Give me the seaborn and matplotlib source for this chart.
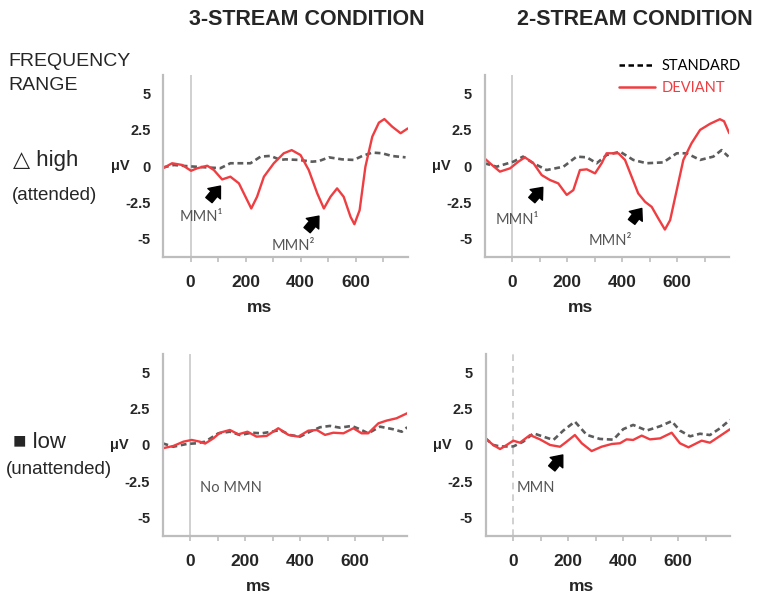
import matplotlib
matplotlib.use("Agg")
import matplotlib.pyplot as plt
from matplotlib import font_manager
from matplotlib.lines import Line2D
import seaborn as sns

# ---- data (time in ms, amplitude in uV) ----
t_3s_high_dev = [-100, -67, -30, 2, 24, 61, 85, 115, 145, 176, 200, 221, 242, 267, 303, 339, 368,
                 400, 430, 461, 485, 509, 533, 557, 582, 596, 615, 636, 661, 685, 705, 733, 764, 790]
v_3s_high_dev = [-0.16, 0.19, 0.07, -0.33, -0.16, 0.02, -0.28, -0.93, -0.74, -1.2, -2.13, -2.94, -2.13,
                 -0.74, 0.19, 0.88, 1.1, 0.76, -0.28, -1.9, -2.94, -2.13, -1.55, -2.13, -3.52, -4.03,
                 -3.06, -0.05, 2.03, 3.0, 3.25, 2.73, 2.27, 2.6]
t_3s_high_std = [-100, -60, -20, 20, 61, 109, 145, 182, 218, 255, 291, 327, 345, 394, 442, 467, 503,
                 551, 594, 624, 661, 697, 733, 782]
v_3s_high_std = [-0.1, 0.07, 0.0, -0.05, -0.1, -0.15, 0.19, 0.19, 0.19, 0.65, 0.7, 0.42, 0.46, 0.42,
                 0.3, 0.34, 0.6, 0.46, 0.42, 0.69, 0.93, 0.88, 0.69, 0.6]

t_2s_high_dev = [-100, -80, -44, -7, 23, 47, 78, 108, 138, 168, 199, 223, 247, 272, 302, 326, 344,
                 387, 411, 435, 459, 484, 508, 532, 556, 575, 599, 623, 653, 684, 720, 756, 771, 790]
v_2s_high_dev = [0.53, 0.19, -0.39, -0.16, 0.3, 0.6, 0.19, -0.63, -0.97, -1.2, -2.0, -1.67, -0.28,
                 -0.23, -0.51, 0.19, 0.88, 0.88, 0.42, -0.74, -1.9, -2.48, -2.83, -3.63, -4.4, -3.75,
                 -1.67, 0.42, 1.58, 2.5, 2.92, 3.24, 3.1, 2.27]
t_2s_high_std = [-100, -56, 5, 40, 78, 126, 187, 235, 272, 308, 344, 393, 441, 489, 550, 599, 635,
                 684, 732, 762, 787]
v_2s_high_std = [0.19, -0.05, 0.3, 0.65, 0.19, -0.28, -0.05, 0.65, 0.6, 0.19, 0.76, 0.99, 0.42, 0.19,
                 0.25, 0.88, 0.88, 0.42, 0.65, 1.1, 0.65]

t_3s_low_dev = [-100, -61, -24, 6, 36, 55, 85, 109, 145, 176, 209, 242, 279, 321, 358, 394, 430, 461,
                491, 521, 558, 594, 624, 648, 685, 715, 751, 790]
v_3s_low_dev = [-0.23, -0.07, 0.23, 0.35, 0.23, 0.1, 0.46, 0.85, 1.04, 0.74, 0.92, 0.58, 0.63, 1.16,
                0.7, 0.58, 0.99, 1.04, 0.7, 0.85, 0.81, 1.16, 0.81, 0.81, 1.5, 1.69, 1.85, 2.2]
t_3s_low_std = [-100, -61, -12, 24, 55, 103, 145, 182, 224, 261, 297, 327, 364, 400, 436, 473, 509,
                545, 588, 618, 648, 691, 739, 770, 790]
v_3s_low_std = [0.12, -0.12, 0.07, 0.12, 0.23, 0.81, 0.92, 0.69, 0.85, 0.81, 0.92, 1.04, 0.69, 0.58,
                0.92, 1.23, 1.32, 1.2, 1.32, 1.09, 0.81, 1.27, 1.09, 0.92, 1.23]

t_2s_low_dev = [-100, -72, -47, -23, 1, 25, 62, 98, 135, 171, 195, 225, 250, 286, 322, 359, 389, 413,
                437, 468, 498, 535, 577, 607, 638, 686, 716, 753, 789]
v_2s_low_dev = [0.46, 0.0, -0.28, 0.0, 0.3, 0.16, 0.69, 0.39, 0.0, -0.12, 0.23, 0.69, 0.12, -0.42,
                -0.12, 0.07, 0.12, 0.39, 0.35, 0.65, 0.39, 0.46, 0.85, 0.12, -0.16, 0.3, 0.16, 0.63, 1.09]
t_2s_low_std = [-100, -72, -47, 1, 37, 74, 110, 147, 183, 225, 268, 316, 365, 401, 437, 486, 535, 577,
                607, 644, 680, 716, 753, 789]
v_2s_low_std = [0.46, 0.0, -0.1, -0.1, 0.23, 0.81, 0.58, 0.35, 1.0, 1.62, 0.7, 0.42, 0.37, 1.1, 1.39,
                1.0, 1.3, 1.65, 1.0, 0.6, 0.78, 0.69, 1.16, 1.74]

x_ticks = [0, 200, 400, 600]
x_minor = [0, 100, 200, 300, 400, 500, 600, 700]
y_ticks = [-5, -2.5, 0, 2.5, 5]
y_ticklabels = ["-5", "-2.5", "0", "2.5", "5"]

col_titles = ["3-STREAM CONDITION", "2-STREAM CONDITION"]

RED = "#ee3e42"
GREY = "#5c5c5c"
SPINE = "#bdbdbd"

sns.set_theme(style="white")
names = {f.name for f in font_manager.fontManager.ttflist}
NARROW = ["Liberation Sans Narrow"] if "Liberation Sans Narrow" in names else []
plt.rcParams["font.family"] = ["Liberation Sans", "DejaVu Sans"]
NOTE_FONT = ["Lato", "DejaVu Sans"]

W, H = 766, 598
fig = plt.figure(figsize=(W / 100, H / 100), dpi=100)


def px_axes(left, bottom, width=244.75, height=182):
    return fig.add_axes([left / W, 1 - bottom / H, width / W, height / H])


def style_panel(ax, zero_dashed=False):
    ax.set_xlim(-100, 790)
    ax.set_ylim(-6.3, 6.3)
    for side in ("top", "right"):
        ax.spines[side].set_visible(False)
    for side in ("left", "bottom"):
        ax.spines[side].set_color(SPINE)
        ax.spines[side].set_linewidth(1.6)
    ax.set_xticks(x_minor, minor=True)
    ax.set_xticks(x_ticks)
    ax.set_xticklabels([str(v) for v in x_ticks], fontsize=12.5, fontweight="bold")
    ax.tick_params(axis="x", which="both", direction="out", length=3.8, width=1.2,
                   color=SPINE, pad=9.5, bottom=True)
    ax.set_yticks(y_ticks)
    ax.set_yticklabels(y_ticklabels, fontsize=10.5, fontweight="bold")
    ax.tick_params(axis="y", length=0, pad=9)
    ax.set_xlabel("")
    ax.set_ylabel("")
    ax.axvline(0, color="#c8c8c8", lw=1.2, ls=(0, (4, 3)) if zero_dashed else "-", zorder=0)
    ax.text(-0.176, 0, "μV", transform=ax.get_yaxis_transform(), ha="center", va="center",
            fontsize=10.5, fontweight="bold")
    ax.text(250, -0.275, "ms", transform=ax.get_xaxis_transform(), ha="center", va="center",
            fontsize=12.5, fontweight="bold")


def draw(ax, t_std, v_std, t_dev, v_dev):
    sns.lineplot(x=t_std, y=v_std, ax=ax, color=GREY, lw=1.9, estimator=None,
                 linestyle=(0, (2.2, 1.4)), solid_joinstyle="round")
    sns.lineplot(x=t_dev, y=v_dev, ax=ax, color=RED, lw=1.7, estimator=None,
                 solid_joinstyle="round")


def arrow(ax, tail, head):
    ax.annotate("", xy=head, xytext=tail,
                arrowprops=dict(arrowstyle="simple,head_length=0.55,head_width=0.9,tail_width=0.45",
                                color="black", shrinkA=0, shrinkB=0, mutation_scale=13))


def note(ax, x, y, s):
    ax.text(x, y, s, ha="center", va="center", fontsize=10.5, color="#555555", family=NOTE_FONT)


ax_tl = px_axes(163, 257)
ax_tr = px_axes(484.5, 257)
ax_bl = px_axes(162.5, 536)
ax_br = px_axes(485.5, 536)

draw(ax_tl, t_3s_high_std, v_3s_high_std, t_3s_high_dev, v_3s_high_dev)
draw(ax_tr, t_2s_high_std, v_2s_high_std, t_2s_high_dev, v_2s_high_dev)
draw(ax_bl, t_3s_low_std, v_3s_low_std, t_3s_low_dev, v_3s_low_dev)
draw(ax_br, t_2s_low_std, v_2s_low_std, t_2s_low_dev, v_2s_low_dev)

style_panel(ax_tl)
style_panel(ax_tr)
style_panel(ax_bl)
style_panel(ax_br, zero_dashed=True)

# annotations
note(ax_tl, 40, -3.5, "MMN¹")
arrow(ax_tl, (67, -2.36), (109, -1.39))
note(ax_tl, 375, -5.55, "MMN²")
arrow(ax_tl, (424, -4.44), (467, -3.47))

note(ax_tr, 20, -3.75, "MMN¹")
arrow(ax_tr, (72, -2.36), (112, -1.48))
note(ax_tr, 356, -5.2, "MMN²")
arrow(ax_tr, (435, -3.87), (472, -2.94))

ax_bl.text(36, -2.95, "No MMN", ha="left", va="center", fontsize=10.5, color="#555555",
           family=NOTE_FONT)
note(ax_br, 84, -2.95, "MMN")
arrow(ax_br, (141, -1.62), (181, -0.69))

# column titles
fig.text(307 / W, 1 - 19.5 / H, col_titles[0], ha="center", va="center", fontsize=15.5,
         fontweight="bold")
fig.text(634.5 / W, 1 - 19.5 / H, col_titles[1], ha="center", va="center", fontsize=15.5,
         fontweight="bold")

# row labels
fig.text(8 / W, 1 - 62 / H, "FREQUENCY", ha="left", va="center", fontsize=14)
fig.text(8 / W, 1 - 85 / H, "RANGE", ha="left", va="center", fontsize=14)
row_font = NARROW + ["Liberation Sans", "DejaVu Sans"]
row_size = 17.5 if NARROW else 16
fig.text(13 / W, 1 - 161 / H, "△ high", ha="left", va="center", fontsize=row_size,
         family=row_font)
fig.text(12 / W, 1 - 195 / H, "(attended)", ha="left", va="center", fontsize=row_size - 2.5,
         family=row_font)
fig.text(13 / W, 1 - 442 / H, "■ low", ha="left", va="center", fontsize=row_size,
         family=row_font)
fig.text(6 / W, 1 - 470 / H, "(unattended)", ha="left", va="center", fontsize=row_size - 2.5,
         family=row_font)

# legend
handles = [Line2D([], [], color="black", lw=1.8, ls=(0, (2.2, 1.4))),
           Line2D([], [], color=RED, lw=1.8)]
leg = fig.legend(handles, ["STANDARD", "DEVIANT"], loc="upper left",
                 bbox_to_anchor=(619 / W, 1 - 59 / H), bbox_transform=fig.transFigure,
                 frameon=False, borderpad=0, borderaxespad=0, handlelength=2.5,
                 handletextpad=0.4, labelspacing=0.55,
                 prop={"family": NOTE_FONT, "size": 10.5})
leg.get_texts()[0].set_color("black")
leg.get_texts()[1].set_color(RED)

fig.savefig("out.png", dpi=100)
